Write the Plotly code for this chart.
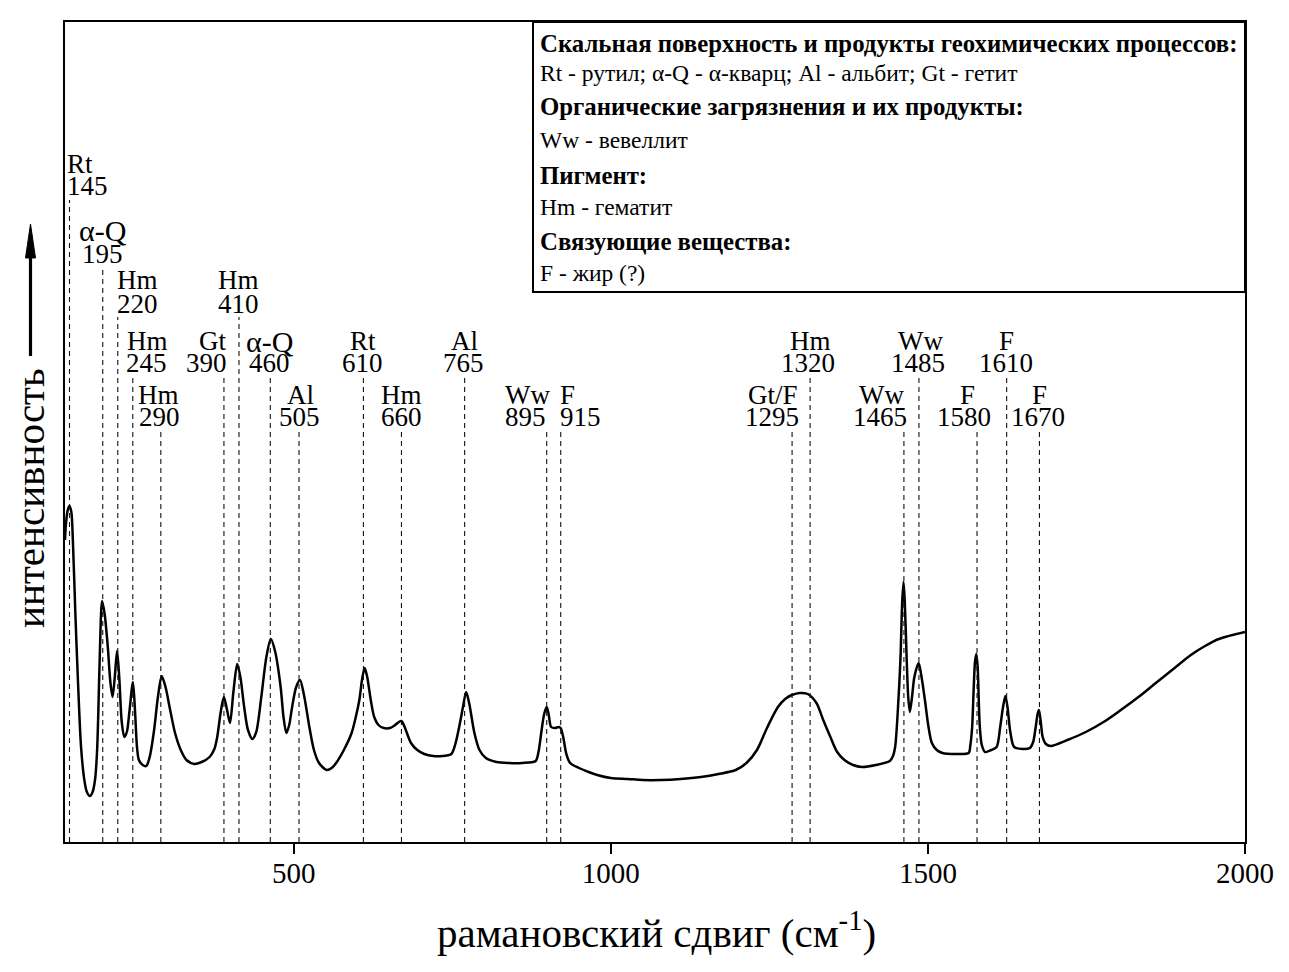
import plotly.graph_objects as go

# ---- spectrum (arbitrary intensity units) ----
shift_cm = [139.5, 141, 143.5, 146.5, 149.5, 152, 155.8, 160, 164.8, 170, 174, 178.8, 183, 187, 190, 192, 194.5, 198,
            202, 207, 211, 214.5, 218, 221.6, 225, 229, 233, 237, 241, 246.6, 250, 253, 256, 262, 267.7, 273, 280, 286,
            292, 298, 305, 313, 322, 331, 343, 355, 367.5, 375, 379.5, 385, 390, 395, 399.6, 405, 411, 416, 422, 428,
            435, 441, 449, 457, 464, 471, 479.5, 484, 488.5, 493, 497.6, 504, 510, 516, 524.8, 532, 540, 552, 560, 567,
            580, 591.4, 598, 603.6, 608, 612, 616, 621.6, 627, 633.7, 642, 652, 660, 666, 670, 675, 685, 695, 706, 720,
            735, 748.7, 755, 761, 767, 772, 777, 785, 793, 803, 820, 839.5, 860, 881.6, 886, 891, 895, 899, 902, 906,
            912, 918, 921, 925, 930, 936, 950, 965, 978.6, 1000, 1027, 1050, 1080, 1110, 1142, 1170, 1197, 1214,
            1230.5, 1247, 1263.6, 1275, 1285.6, 1298, 1310.5, 1324.3, 1335, 1346.3, 1357, 1368.4, 1382, 1396, 1418,
            1440, 1445, 1448.4, 1452.5, 1456.7, 1459.5, 1461.6, 1463.6, 1466.6, 1469, 1471.6, 1475, 1478.7, 1485.4,
            1490, 1495.3, 1501, 1506.3, 1514, 1522.9, 1545, 1564.2, 1567, 1569.8, 1572, 1574.3, 1576.4, 1578.5, 1580.3,
            1581.9, 1585, 1590.2, 1600, 1608.4, 1614, 1618.5, 1622.2, 1625.5, 1630, 1636, 1650, 1660.8, 1666, 1670,
            1673, 1675.1, 1678, 1681, 1686, 1693.9, 1720, 1749, 1777, 1804.2, 1832, 1859.4, 1887, 1914.6, 1937,
            1958.7, 2000]
intensity = [302, 318, 331, 336, 330, 300, 229, 160, 95, 62, 50, 46, 50, 63, 90, 129, 190, 241,
             228, 195, 160, 145, 165, 191, 165, 120, 105, 110, 130, 160, 130, 95, 82, 77, 76, 85, 112, 145,
             166, 155, 133, 109, 92, 82, 78, 80, 85, 93, 105, 130, 145, 132, 119, 150, 178, 165, 135, 112,
             103, 110, 145, 185, 203, 190, 155, 125, 109, 117, 135, 155, 162, 148, 115, 92, 79, 72, 74, 79,
             93, 109, 125, 142, 163, 174, 165, 142, 125, 117, 114, 114, 117, 120, 121, 115, 99, 92, 88, 86,
             86, 88, 98, 115, 135, 150, 138, 109, 92, 84, 80, 79, 79, 81, 90, 112, 128, 135, 128, 115,
             114, 115, 114, 105, 88, 79, 74, 70, 67, 64, 63, 62, 62, 63, 65, 68, 72, 79,
             92, 115, 135, 143, 147, 149, 148, 139, 122, 105, 90, 82, 77, 75, 77,
             81, 86, 95, 130, 182, 240, 260, 240, 182, 145, 130, 145, 165, 179,
             165, 142, 115, 99, 92, 89, 88, 89, 97, 115, 150, 180, 188, 175, 140,
             115, 97, 90, 92, 95, 115, 135, 146, 135, 110, 95, 93, 94, 100, 115,
             128, 132, 120, 105, 98, 96, 102, 110, 120, 132, 145, 159, 173, 187, 196,
             203, 210]

# ---- band assignments ----
band_names = ["Rt", "α-Q", "Hm", "Hm", "Hm", "Gt", "Hm", "α-Q", "Al", "Rt", "Hm", "Al", "Ww", "F",
              "Gt/F", "Hm", "Ww", "Ww", "F", "F", "F"]
band_numbers = ["145", "195", "220", "245", "290", "390", "410", "460", "505", "610", "660", "765", "895", "915",
                "1295", "1320", "1465", "1485", "1580", "1610", "1670"]
band_positions = [146.6, 199.0, 222.7, 246.4, 290.6, 390.1, 413.8, 463.2, 508.5, 610.0, 670.0, 769.6, 899.0, 921.1,
                  1285.9, 1314.3, 1462.2, 1485.9, 1577.5, 1624.2, 1675.9]

x_ticks = [500, 1000, 1500, 2000]

legend_lines = [
    ("Скальная поверхность и продукты геохимических процессов:", True),
    ("Rt - рутил; α-Q - α-кварц; Al - альбит; Gt - гетит", False),
    ("Органические загрязнения и их продукты:", True),
    ("Ww - вевеллит", False),
    ("Пигмент:", True),
    ("Hm - гематит", False),
    ("Связующие вещества:", True),
    ("F - жир (?)", False),
]

# ---- layout geometry (page pixels; the page body adds an 8px offset) ----
OFF = 8
W, H = 1289 - OFF, 972 - OFF
L, R, T, B = 65, 1245, 22, 842          # plot area on the page
PW, PH = R - L, B - T


def py(p):
    return (B - p) / PH


def px(p):
    return (p - L) / PW


label_row = [0, 1, 2, 3, 4, 3, 2, 3, 4, 3, 4, 3, 4, 4, 4, 3, 4, 3, 4, 3, 4]
row_name_y = [164, 230, 280, 341, 395]
row_num_y = [186, 254, 304, 363, 417]
row_line_top = [200, 270, 317, 376, 432]
name_shift = [10, 0, 20, 15, -2, -11, 0, 0, 1, 0, 0, 0, -19, 7, -19, 0, -22, 2, -10, 0, 0]
num_shift = [18, 0, 20, 14, -1, -17, 0, -1, 0, -1, 0, -1, -21, 20, -20, -2, -24, -1, -13, -1, -1]

FONT = "Liberation Serif"

fig = go.Figure()
fig.add_trace(go.Scatter(x=shift_cm, y=intensity, mode="lines",
                         line=dict(color="black", width=2.5, shape="spline", smoothing=0.8),
                         hoverinfo="skip", showlegend=False))

shapes = []
annotations = []
for i, pos in enumerate(band_positions):
    r = label_row[i]
    shapes.append(dict(type="line", xref="x", yref="paper", x0=pos, x1=pos, y0=0, y1=py(row_line_top[r]),
                       line=dict(color="#111", width=1.1, dash="5px,4px")))
    nm_size = 30 if band_names[i] == "α-Q" else 27
    annotations.append(dict(x=pos, y=py(row_name_y[r]), xref="x", yref="paper", text=band_names[i],
                            showarrow=False, xanchor="center", yanchor="middle", xshift=name_shift[i],
                            font=dict(family=FONT, size=nm_size, color="black")))
    annotations.append(dict(x=pos, y=py(row_num_y[r]), xref="x", yref="paper", text=band_numbers[i],
                            showarrow=False, xanchor="center", yanchor="middle", xshift=num_shift[i],
                            font=dict(family=FONT, size=27, color="black")))

# legend box
shapes.append(dict(type="rect", xref="paper", yref="paper", x0=px(533), x1=1.0, y0=py(292), y1=1.0,
                   line=dict(color="black", width=2), fillcolor="white", layer="above"))
leg_y = [43, 73, 107, 140, 175, 207, 241, 273]
for (txt, bold), yy in zip(legend_lines, leg_y):
    annotations.append(dict(x=px(538), y=py(yy), xref="paper", yref="paper",
                            text=f"<b>{txt}</b>" if bold else txt, showarrow=False,
                            xanchor="left", yanchor="middle",
                            font=dict(family=FONT, size=24.8 if bold else 23.5, color="black")))

# axis titles
annotations.append(dict(x=px(656), y=py(930), xref="paper", yref="paper",
                        text="рамановский сдвиг (см<sup>-1</sup>)", showarrow=False,
                        xanchor="center", yanchor="middle", font=dict(family=FONT, size=41, color="black")))
annotations.append(dict(x=px(30), y=py(498), xref="paper", yref="paper", text="интенсивность",
                        textangle=-90, showarrow=False, xanchor="center", yanchor="middle",
                        font=dict(family=FONT, size=41, color="black")))
# upward arrow beside the y title
shapes.append(dict(type="line", xref="paper", yref="paper", x0=px(30.5), x1=px(30.5), y0=py(356), y1=py(250),
                   line=dict(color="black", width=3.2)))
shapes.append(dict(type="path", xref="paper", yref="paper",
                   path=f"M {px(30.5)},{py(224)} L {px(25.5)},{py(258)} L {px(35.5)},{py(258)} Z",
                   fillcolor="black", line=dict(color="black", width=1)))

fig.update_layout(
    width=W, height=H,
    margin=dict(l=L - OFF, r=W - (R - OFF), t=T - OFF, b=H - (B - OFF)),
    paper_bgcolor="white", plot_bgcolor="white",
    shapes=shapes, annotations=annotations,
    xaxis=dict(range=[139.5, 2000], tickvals=x_ticks, ticktext=[str(v) for v in x_ticks],
               ticks="outside", ticklen=10, tickwidth=2, tickcolor="black",
               ticklabelstandoff=-6,
               showline=True, linecolor="black", linewidth=2, mirror=True,
               showgrid=False, zeroline=False,
               tickfont=dict(family=FONT, size=29, color="black")),
    yaxis=dict(range=[0, 820], showticklabels=False, ticks="", showline=True, linecolor="black",
               linewidth=2, mirror=True, showgrid=False, zeroline=False),
)

fig.write_html("out.html")
